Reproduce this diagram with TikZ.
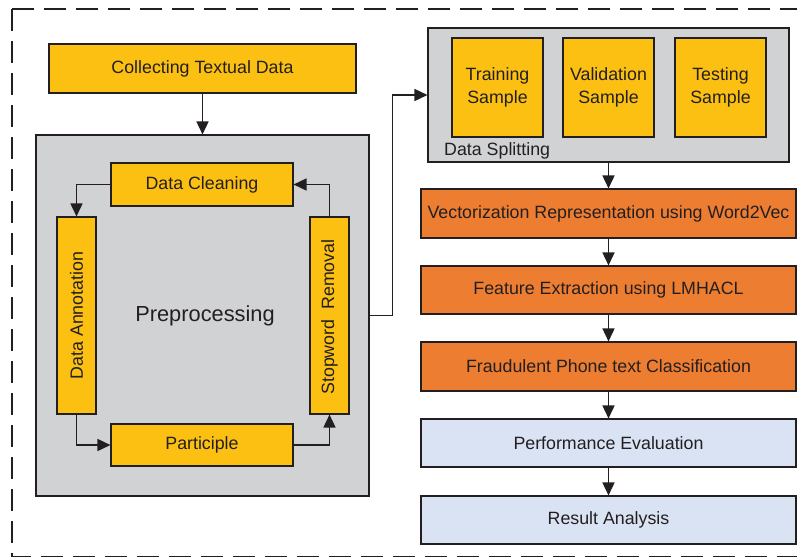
\documentclass[tikz,border=0pt]{standalone}
\usepackage{fontspec}
\setmainfont{Liberation Sans}
\usetikzlibrary{arrows.meta}
\definecolor{yel}{RGB}{251,192,18}
\definecolor{org}{RGB}{237,125,49}
\definecolor{gry}{RGB}{209,210,212}
\definecolor{lblue}{RGB}{218,227,243}
\definecolor{ink}{RGB}{35,31,32}
\tikzset{
  base/.style={draw=ink, line width=1.1pt, text=ink, inner sep=0pt,
    font=\fontsize{17.8}{23.5}\selectfont, align=center},
  ybox/.style={base, fill=yel},
  obox/.style={base, fill=org},
  bbox/.style={base, fill=lblue},
  gbox/.style={base, fill=gry},
  conn/.style={draw=ink, line width=1.6pt, -{Triangle[length=13pt,width=12pt]}},
}
\begin{document}
\begin{tikzpicture}[x=1pt,y=-1pt]
\useasboundingbox (0,0) rectangle (797,558);
\fill[white] (0,0) rectangle (797,558);
% dashed frame
\draw[ink, line width=1.3pt, dash pattern=on 22pt off 10pt] (12,9) -- (12,556.5) -- (808,556.5);
\draw[ink, line width=1.3pt, dash pattern=on 22pt off 10pt] (12,9) -- (808,9);

% left part
\node[ybox, minimum width=307pt, minimum height=49pt] (collect) at (202.5,68.5) {Collecting Textual Data};
\node[gbox, minimum width=333pt, minimum height=361pt] (prep) at (202.5,315.5) {};
\node[text=ink, font=\fontsize{21.8}{26}\selectfont] (preptxt) at (205,316) {Preprocessing};
\node[ybox, minimum width=182pt, minimum height=43pt] (clean) at (202,184.5) {Data Cleaning};
\node[ybox, minimum width=39pt, minimum height=197pt] (annot) at (76.5,315.5) {};
\node[text=ink, font=\fontsize{17.8}{23.5}\selectfont, rotate=90] (annottxt) at (76.5,315.5) {Data Annotation};
\node[ybox, minimum width=182pt, minimum height=42pt] (partic) at (202,445) {Participle};
\node[ybox, minimum width=39pt, minimum height=197pt] (stop) at (329.5,315.5) {};
\node[text=ink, font=\fontsize{17.8}{23.5}\selectfont, rotate=90] (stoptxt) at (329.5,317) {Stopword\ \ Removal};

% right part
\node[gbox, minimum width=361pt, minimum height=134pt] (split) at (608.5,95) {};
\node[ybox, minimum width=91pt, minimum height=99pt] (train) at (497.5,87.5) {Training\\Sample};
\node[ybox, minimum width=91pt, minimum height=99pt] (valid) at (608.5,87.5) {Validation\\Sample};
\node[ybox, minimum width=91pt, minimum height=99pt] (test) at (720.5,87.5) {Testing\\Sample};
\node[text=ink, font=\fontsize{17.8}{23.5}\selectfont, anchor=base west, inner sep=0pt] (splittxt) at (444,155) {Data Splitting};

\node[obox, minimum width=375pt, minimum height=49pt] (vec) at (608.5,213.5) {Vectorization Representation using Word2Vec};
\node[obox, minimum width=375pt, minimum height=48pt] (feat) at (608.5,290) {Feature Extraction using LMHACL};
\node[obox, minimum width=375pt, minimum height=49pt] (fraud) at (608.5,366.5) {Fraudulent Phone text Classification};
\node[bbox, minimum width=375pt, minimum height=48pt] (perf) at (608.5,443) {Performance Evaluation};
\node[bbox, minimum width=375pt, minimum height=48pt] (result) at (608.5,520) {Result Analysis};

% connectors
\draw[conn] (collect.south) -- (prep.north);
\draw[conn] (clean.west) -| (annot.north);
\draw[conn] (annot.south) |- (partic.west);
\draw[conn] (partic.east) -| (stop.south);
\draw[conn] (stop.north) |- (clean.east);
\draw[conn] (prep.east) -- ++(23,0) |- (split.west);
\draw[conn] (split.south) -- (vec.north);
\draw[conn] (vec.south) -- (feat.north);
\draw[conn] (feat.south) -- (fraud.north);
\draw[conn] (fraud.south) -- (perf.north);
\draw[conn] (perf.south) -- (result.north);
\end{tikzpicture}
\end{document}
